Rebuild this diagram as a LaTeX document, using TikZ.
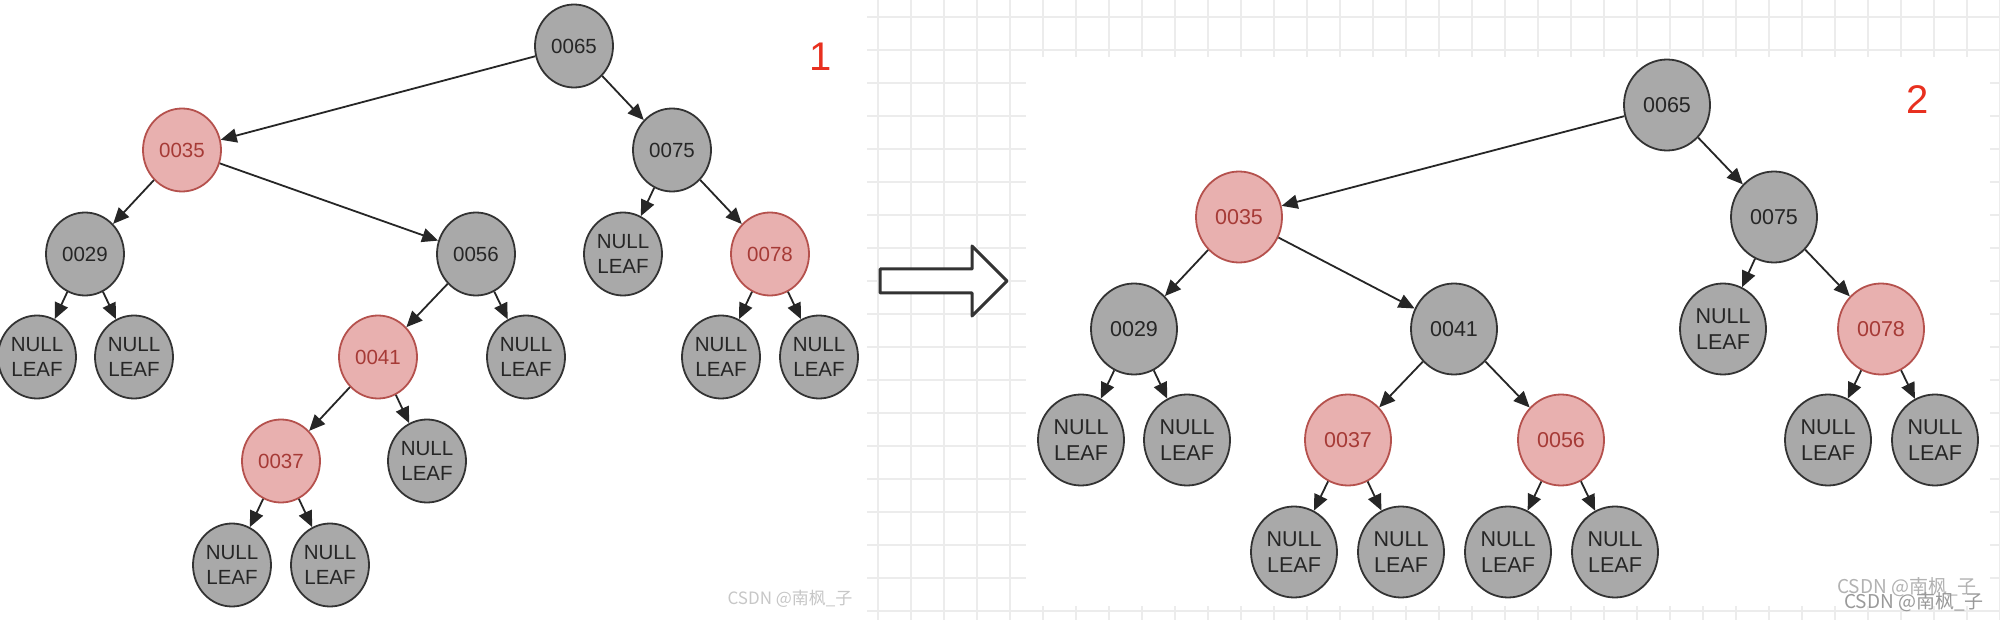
\documentclass[tikz,border=0pt]{standalone}
\usepackage{fontspec}
\setmainfont{Liberation Sans}
\newfontfamily\cjk{Noto Sans CJK SC}
\usetikzlibrary{shapes.geometric,arrows.meta}
\definecolor{grayf}{HTML}{A9A9A9}
\definecolor{strokec}{HTML}{333333}
\definecolor{textc}{HTML}{262626}
\definecolor{redfill}{HTML}{E8B0AF}
\definecolor{redstroke}{HTML}{B5514D}
\definecolor{redtext}{HTML}{A63A36}
\definecolor{gridc}{HTML}{ECECEC}
\definecolor{labelred}{HTML}{E8301F}
\tikzset{
  bnode/.style={ellipse, draw=strokec, fill=grayf, line width=1.8pt,
    minimum width=78pt, minimum height=83pt, inner sep=0pt, text=textc,
    align=center, font=\fontsize{20.5}{25}\selectfont},
  rnode/.style={bnode, draw=redstroke, fill=redfill, text=redtext},
  bignode/.style={minimum width=86pt, minimum height=91pt, font=\fontsize{21.5}{26.5}\selectfont},
  edge/.style={-{Triangle[length=16pt,width=14pt]}, line width=1.8pt, draw=black!85},
  gridline/.style={draw=gridc, line width=1.6pt},
  numlabel/.style={text=labelred, font=\fontsize{40}{40}\selectfont, inner sep=0pt},
  wmark/.style={font=\cjk\fontsize{17}{17}\selectfont, inner sep=0pt},
}
\begin{document}
\begin{tikzpicture}[x=1pt,y=-1pt]
\useasboundingbox (0,0) rectangle (2000,620);
\fill[white] (0,0) rectangle (2000,620);
% grid background
\begin{scope}
\clip (867,0) rectangle (2000,620);
\foreach \k in {0,...,34} \draw[gridline] (878+33*\k,0) -- ++(0,620);
\foreach \k in {0,...,18} \draw[gridline] (867,17+33*\k) -- ++(1133,0);
\end{scope}
\fill[white] (1026,57) rectangle (1990,606);
% big arrow
\draw[line width=3pt, draw=black!80, fill=white, line join=round]
  (880,269) -- (972,269) -- (972,246) -- (1007,281) -- (972,316) -- (972,293) -- (880,293) -- cycle;
% ---------- tree 1 ----------
\node[bnode] (a65) at (574,46) {0065};
\node[rnode] (a35) at (182,150) {0035};
\node[bnode] (a75) at (672,150) {0075};
\node[bnode] (a29) at (85,254) {0029};
\node[bnode] (a56) at (476,254) {0056};
\node[bnode] (an1) at (623,254) {NULL\\LEAF};
\node[rnode] (a78) at (770,254) {0078};
\node[bnode] (l1) at (37,357) {NULL\\LEAF};
\node[bnode] (l2) at (134,357) {NULL\\LEAF};
\node[rnode] (a41) at (378,357) {0041};
\node[bnode] (l3) at (526,357) {NULL\\LEAF};
\node[bnode] (l4) at (721,357) {NULL\\LEAF};
\node[bnode] (l5) at (819,357) {NULL\\LEAF};
\node[rnode] (a37) at (281,461) {0037};
\node[bnode] (l6) at (427,461) {NULL\\LEAF};
\node[bnode] (l7) at (232,565) {NULL\\LEAF};
\node[bnode] (l8) at (330,565) {NULL\\LEAF};
\foreach \p/\c in {a65/a35,a65/a75,a35/a29,a35/a56,a75/an1,a75/a78,a29/l1,a29/l2,
  a56/a41,a56/l3,a78/l4,a78/l5,a41/a37,a41/l6,a37/l7,a37/l8}
  \draw[edge] (\p) -- (\c);
\node[numlabel] (n1) at (821,57) {1};
\node[wmark, text=black!22] (w1) at (790,599) {CSDN @南枫\_子};
% ---------- tree 2 ----------
\node[bnode,bignode] (b65) at (1667,105) {0065};
\node[rnode,bignode] (b35) at (1239,217) {0035};
\node[bnode,bignode] (b75) at (1774,217) {0075};
\node[bnode,bignode] (b29) at (1134,329) {0029};
\node[bnode,bignode] (b41) at (1454,329) {0041};
\node[bnode,bignode] (bn1) at (1723,329) {NULL\\LEAF};
\node[rnode,bignode] (b78) at (1881,329) {0078};
\node[bnode,bignode] (m1) at (1081,440) {NULL\\LEAF};
\node[bnode,bignode] (m2) at (1187,440) {NULL\\LEAF};
\node[rnode,bignode] (b37) at (1348,440) {0037};
\node[rnode,bignode] (b56) at (1561,440) {0056};
\node[bnode,bignode] (m3) at (1828,440) {NULL\\LEAF};
\node[bnode,bignode] (m4) at (1935,440) {NULL\\LEAF};
\node[bnode,bignode] (m5) at (1294,552) {NULL\\LEAF};
\node[bnode,bignode] (m6) at (1401,552) {NULL\\LEAF};
\node[bnode,bignode] (m7) at (1508,552) {NULL\\LEAF};
\node[bnode,bignode] (m8) at (1615,552) {NULL\\LEAF};
\foreach \p/\c in {b65/b35,b65/b75,b35/b29,b35/b41,b75/bn1,b75/b78,b29/m1,b29/m2,
  b41/b37,b41/b56,b78/m3,b78/m4,b37/m5,b37/m6,b56/m7,b56/m8}
  \draw[edge] (\p) -- (\c);
\node[numlabel] (n2) at (1918,100) {2};
\node[wmark, text=black!30, font=\cjk\fontsize{19}{19}\selectfont] (w2) at (1907,587) {CSDN @南枫\_子};
\node[wmark, text=black!40, font=\cjk\fontsize{19}{19}\selectfont] (w3) at (1914,602) {CSDN @南枫\_子};
\end{tikzpicture}
\end{document}
